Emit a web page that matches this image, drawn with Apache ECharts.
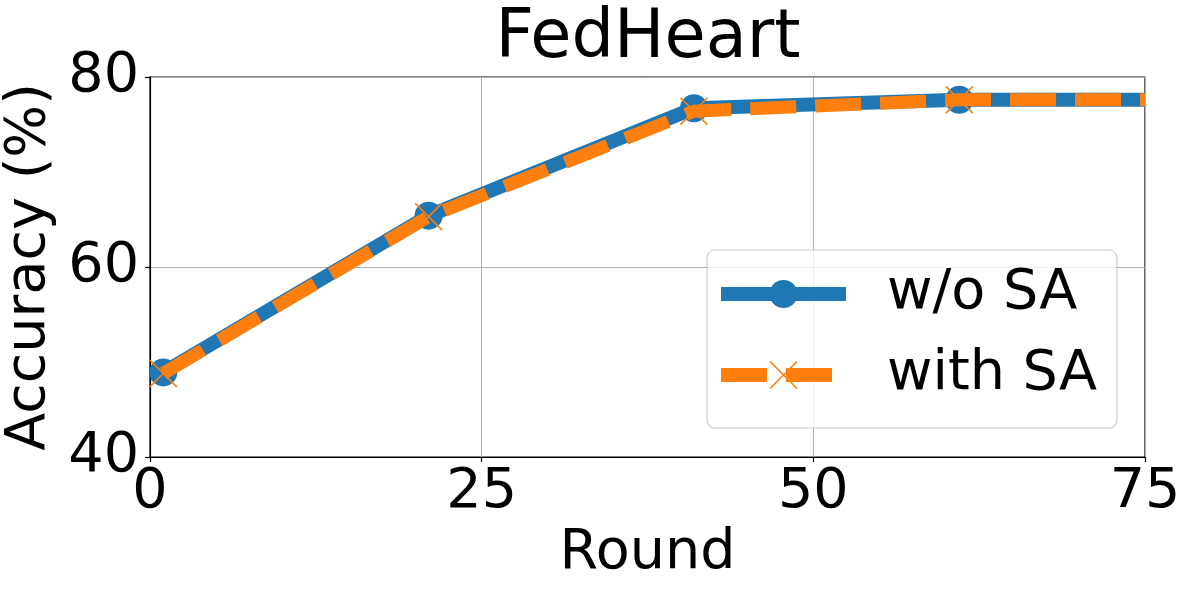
<!DOCTYPE html>
<html>
<head>
<meta charset="utf-8">
<script src="https://cdn.jsdelivr.net/npm/echarts@6/dist/echarts.min.js"></script>
<style>
html,body{margin:0;padding:0;background:#fff;}
#chart{width:1189px;height:590px;}
</style>
</head>
<body>
<div id="chart"></div>
<script>
// ---- data ----
const rounds = [1, 21, 41, 61, 75];
const markerRounds = [1, 21, 41, 61];
const woSA = [48.9, 65.4, 76.7, 77.6, 77.6];
const withSA = [48.8, 65.3, 76.4, 77.6, 77.6];
const seriesNames = ['w/o SA', 'with SA'];
const titleText = 'FedHeart';
const xName = 'Round';
const yName = 'Accuracy (%)';

const FONT = 'DejaVu Sans';
const xPath = 'path://M0,4 L4,0 L50,46 L96,0 L100,4 L54,50 L100,96 L96,100 L50,54 L4,100 L0,96 L46,50 Z';

const chart = echarts.init(document.getElementById('chart'), null, {renderer: 'canvas'});
const pairs = (xs, ys) => xs.map((x, i) => {
  const item = {value: [x, ys[i]]};
  if (markerRounds.indexOf(x) < 0) item.symbol = 'none';
  return item;
});

chart.setOption({
  animation: false,
  backgroundColor: '#ffffff',
  title: {
    text: titleText,
    left: 643,
    textAlign: 'center',
    top: 1,
    textStyle: {fontFamily: FONT, fontSize: 67, fontWeight: 'normal', color: '#000'}
  },
  grid: {
    left: 150, right: 44, top: 77, bottom: 133,
    containLabel: false, outerBoundsMode: 'none',
    show: true, borderColor: '#000', borderWidth: 1.2, backgroundColor: 'transparent'
  },
  legend: {
    orient: 'vertical',
    left: 707, top: 250,
    padding: [16, 20, 25, 7],
    itemWidth: 125, itemHeight: 35, itemGap: 25,
    backgroundColor: 'rgba(255,255,255,0.8)',
    borderColor: '#cccccc', borderWidth: 1.2, borderRadius: 8,
    textStyle: {fontFamily: FONT, fontSize: 55.6, color: '#000', padding: [0, 0, 0, 36]},
    data: [
      {name: seriesNames[0], lineStyle: {width: 14}},
      {name: seriesNames[1], lineStyle: {width: 14}}
    ],
    z: 10
  },
  xAxis: {
    type: 'value', min: 0, max: 75, interval: 25,
    name: xName, nameLocation: 'middle', nameGap: 60,
    nameTextStyle: {fontFamily: FONT, fontSize: 55.6, color: '#000'},
    axisLine: {show: true, onZero: false, lineStyle: {color: '#000', width: 1.2}},
    axisTick: {show: true, inside: false, length: 5, lineStyle: {color: '#000', width: 1.2}},
    axisLabel: {fontFamily: FONT, fontSize: 55.6, color: '#000', margin: 8},
    splitLine: {show: true, lineStyle: {color: '#b0b0b0', width: 1}}
  },
  yAxis: {
    type: 'value', min: 40, max: 80, interval: 20,
    name: yName, nameLocation: 'middle', nameGap: 72,
    nameTextStyle: {fontFamily: FONT, fontSize: 55.6, color: '#000'},
    axisLine: {show: true, onZero: false, lineStyle: {color: '#000', width: 1.2}},
    axisTick: {show: true, inside: false, length: 5, lineStyle: {color: '#000', width: 1.2}},
    axisLabel: {fontFamily: FONT, fontSize: 55.6, color: '#000', margin: 11},
    splitLine: {show: true, lineStyle: {color: '#b0b0b0', width: 1}}
  },
  series: [
    {
      name: seriesNames[0], type: 'line', data: pairs(rounds, woSA),
      symbol: 'circle', symbolSize: 28, showSymbol: true, clip: true,
      itemStyle: {color: '#1f77b4'},
      lineStyle: {color: '#1f77b4', width: 14, cap: 'butt', join: 'round'},
      z: 2
    },
    {
      name: seriesNames[1], type: 'line', data: pairs(rounds, withSA),
      symbol: xPath, symbolSize: 28, showSymbol: true, clip: true,
      itemStyle: {color: '#ff7f0e'},
      lineStyle: {color: '#ff7f0e', width: 13, type: [46, 19], cap: 'butt', join: 'round'},
      z: 3
    }
  ]
});
</script>
</body>
</html>
